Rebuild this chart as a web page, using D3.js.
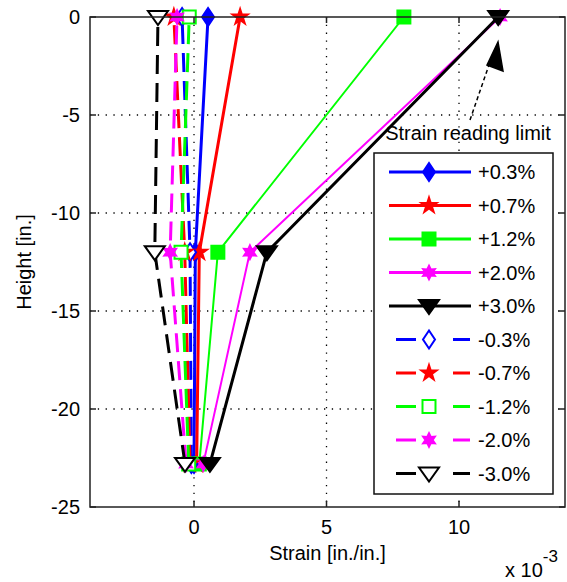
<!DOCTYPE html>
<html><head><meta charset="utf-8">
<script src="https://cdn.jsdelivr.net/npm/d3@7"></script>
<style>body{margin:0;background:#fff}svg{display:block}text{font-family:"Liberation Sans",Arial,sans-serif;fill:#000}</style>
</head><body><svg id="c" width="567" height="582"></svg>
<script>
const heights = [-22.8, -12, 0];
const names = ["+0.3%","+0.7%","+1.2%","+2.0%","+3.0%","-0.3%","-0.7%","-1.2%","-2.0%","-3.0%"];
const colors = ["#0000ff","#ff0000","#00ff00","#ff00ff","#000000","#0000ff","#ff0000","#00ff00","#ff00ff","#000000"];
const markers = ["diamond","star","square","hexagram","triangle","diamond","star","square","hexagram","triangle"];
const filled = [true,true,true,true,true,false,true,false,true,false];
const dashed = [false,false,false,false,false,true,true,true,true,true];
const widths = [3,3,2,2,3,3,3,3,3,3];
const p03 = [0.0, 0.05, 0.53];
const p07 = [0.1, 0.2, 1.74];
const p12 = [0.2, 0.9, 7.92];
const p20 = [0.35, 2.11, 11.55];
const p30 = [0.6, 2.75, 11.48];
const n03 = [-0.1, -0.15, -0.45];
const n07 = [-0.15, -0.35, -0.76];
const n12 = [-0.2, -0.49, -0.18];
const n20 = [-0.3, -0.9, -0.64];
const n30 = [-0.34, -1.48, -1.36];
const seriesValues = [p03,p07,p12,p20,p30,n03,n07,n12,n20,n30];
const xTicks = [0,5,10];
const yTicks = [0,-5,-10,-15,-20,-25];
const xDomain = [-3.925, 14];
const yDomain = [-25, 0];

const svg = d3.select("#c");
const L=90, R=565, T=17, B=507;
const x = d3.scaleLinear().domain(xDomain).range([L,R]);
const y = d3.scaleLinear().domain(yDomain).range([B,T]);

// grid
const grid = svg.append("g").attr("stroke","#000").attr("stroke-width",1.3).attr("stroke-dasharray","1.3,6.5");
xTicks.forEach(t=>grid.append("line").attr("x1",x(t)).attr("x2",x(t)).attr("y1",T).attr("y2",B));
yTicks.filter(t=>t>-25&&t<0).forEach(t=>grid.append("line").attr("y1",y(t)).attr("y2",y(t)).attr("x1",L).attr("x2",R));

function markerPath(type){
  if(type==="diamond") return "M0,-9L6,0L0,9L-6,0Z";
  if(type==="square") return "M-6.5,-6.5H6.5V6.5H-6.5Z";
  if(type==="triangle") return "M-10,-6L10,-6L0,8Z";
  if(type==="star") return d3.symbol(d3.symbolStar, 70)();
  if(type==="hexagram"){
    let p=[];
    for(let i=0;i<12;i++){const a=Math.PI/6*i - Math.PI/2; const r=i%2?3.6:6.8; p.push([r*Math.cos(a), r*Math.sin(a)]);}
    return "M"+p.map(q=>q.join(",")).join("L")+"Z";
  }
}

const line = d3.line().x(d=>x(d[0])).y(d=>y(d[1]));
const dataG = svg.append("g");
seriesValues.forEach((vals,i)=>{
  const pts = vals.map((v,j)=>[v,heights[j]]);
  dataG.append("path").attr("d",line(pts)).attr("fill","none").attr("stroke",colors[i])
    .attr("stroke-width",widths[i]).attr("stroke-dasharray",dashed[i]?"19,9":null);
  pts.forEach(p=>{
    dataG.append("path").attr("d",markerPath(markers[i]))
      .attr("transform",`translate(${x(p[0])},${y(p[1])})`)
      .attr("fill",filled[i]?colors[i]:"#fff").attr("stroke",colors[i]).attr("stroke-width",2);
  });
});

// frame
svg.append("rect").attr("x",L).attr("y",T).attr("width",R-L).attr("height",B-T)
  .attr("fill","none").attr("stroke","#222").attr("stroke-width",1.5);
// ticks inward
const tk = svg.append("g").attr("stroke","#222").attr("stroke-width",1.5);
xTicks.forEach(t=>{
  tk.append("line").attr("x1",x(t)).attr("x2",x(t)).attr("y1",B).attr("y2",B-6);
  tk.append("line").attr("x1",x(t)).attr("x2",x(t)).attr("y1",T).attr("y2",T+6);
});
yTicks.forEach(t=>{
  tk.append("line").attr("x1",L).attr("x2",L+6).attr("y1",y(t)).attr("y2",y(t));
  tk.append("line").attr("x1",R).attr("x2",R-6).attr("y1",y(t)).attr("y2",y(t));
});
const fs = 20;
xTicks.forEach(t=>svg.append("text").attr("x",x(t)).attr("y",534).attr("text-anchor","middle").attr("font-size",fs).text(t));
yTicks.forEach(t=>svg.append("text").attr("x",80).attr("y",y(t)+7).attr("text-anchor","end").attr("font-size",fs).text(t));
svg.append("text").attr("x",(L+R)/2).attr("y",560).attr("text-anchor","middle").attr("font-size",fs).text("Strain [in./in.]");
svg.append("text").attr("transform",`translate(31,${(T+B)/2}) rotate(-90)`).attr("text-anchor","middle").attr("font-size",fs).text("Height [in.]");
const ex = svg.append("text").attr("x",505).attr("y",577).attr("font-size",fs);
ex.append("tspan").text("x 10");
ex.append("tspan").attr("dy",-15).attr("font-size",17).text("-3");

// annotation
svg.append("line").attr("x1",470).attr("y1",120).attr("x2",490).attr("y2",62)
  .attr("stroke","#000").attr("stroke-width",1.5).attr("stroke-dasharray","4,3");
svg.append("path").attr("d","M498,42L503,71L487,65Z").attr("fill","#000").attr("stroke","#000").attr("stroke-width",1.5);
svg.append("text").attr("x",468).attr("y",140).attr("text-anchor","middle").attr("font-size",fs).text("Strain reading limit");

// legend
const lg = svg.append("g");
lg.append("rect").attr("x",374).attr("y",153).attr("width",179).attr("height",341).attr("fill","#fff").attr("stroke","#111").attr("stroke-width",1.5);
names.forEach((n,i)=>{
  const yy = 172 + i*33.5;
  lg.append("line").attr("x1",dashed[i]?396:389).attr("x2",471).attr("y1",yy).attr("y2",yy)
    .attr("stroke",colors[i]).attr("stroke-width",widths[i]+ (i===2||i===3?1:0))
    .attr("stroke-dasharray",dashed[i]?"20,37,17":null);
  lg.append("path").attr("d",markerPath(markers[i])).attr("transform",`translate(429,${yy})`)
    .attr("fill",filled[i]?colors[i]:"#fff").attr("stroke",colors[i]).attr("stroke-width",2);
  lg.append("text").attr("x",478).attr("y",yy+7).attr("font-size",fs).text(n);
});
</script></body></html>
